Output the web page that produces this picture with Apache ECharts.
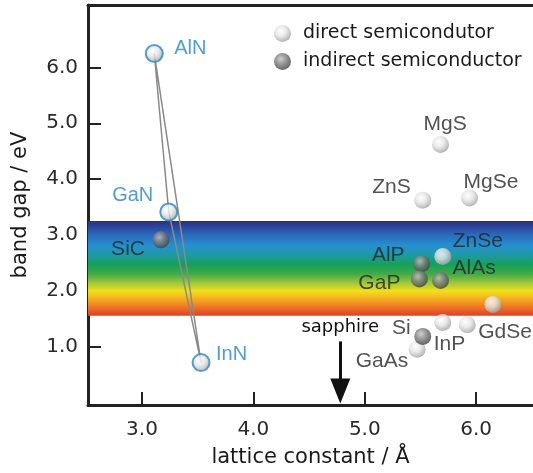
<!DOCTYPE html>
<html>
<head>
<meta charset="utf-8">
<script src="https://cdn.jsdelivr.net/npm/echarts@6/dist/echarts.min.js"></script>
<style>
html,body{margin:0;padding:0;background:#fff;}
#chart{width:533px;height:473px;}
</style>
</head>
<body>
<div id="chart"></div>
<script>
// ---- data ----
const names       = ['AlN','GaN','InN','SiC','MgS','ZnS','MgSe','ZnSe','AlP','GaP','AlAs','','InP','GdSe','Si','GaAs'];
const latticeConst= [3.11, 3.24, 3.53, 3.17, 5.68, 5.52, 5.94, 5.70, 5.51, 5.49, 5.68, 6.15, 5.70, 5.92, 5.52, 5.47];
const bandGap     = [6.25, 3.41, 0.71, 2.91, 4.62, 3.62, 3.66, 2.61, 2.48, 2.21, 2.18, 1.75, 1.43, 1.39, 1.18, 0.95];
const gapType     = ['nitride','nitride','nitride','indirect','direct','direct','direct','direct','indirect','indirect','indirect','direct','direct','direct','indirect','direct'];
const nitrideLoop = ['AlN','GaN','InN','AlN'];
const visibleBand = [1.55, 3.25];
const sapphireLattice = 4.78;
const sapphireArrowFrom = 1.09;
const sapphireArrowTo = 0.2;
const xTicks = [3, 4, 5, 6];
const yTicks = [1, 2, 3, 4, 5, 6];
const legendNames = ['direct semicondutor', 'indirect semiconductor'];

// ---- styles ----
const lightBall = {type:'radial', x:0.4, y:0.35, r:0.7, colorStops:[
  {offset:0, color:'#ffffff'},{offset:0.45, color:'#e4e4e4'},{offset:1, color:'#999999'}]};
const darkBall = {type:'radial', x:0.4, y:0.35, r:0.7, colorStops:[
  {offset:0, color:'#c4c4c4'},{offset:0.45, color:'#7e7e7e'},{offset:1, color:'#3a3a3a'}]};
const labelFont = 'DejaVu Sans';
const pointFont = 'Liberation Sans';
const place = {
  AlN:{p:'right',o:[10.5,-5]}, GaN:{p:'left',o:[-6,-16]}, InN:{p:'right',o:[5.5,-8]},
  SiC:{p:'left',o:[-7.5,9]}, MgS:{p:'right',o:[-25.5,-20.5]}, ZnS:{p:'left',o:[-3.5,-13]},
  MgSe:{p:'right',o:[-14.5,-16]}, ZnSe:{p:'right',o:[1.5,-15]}, AlP:{p:'left',o:[-8.5,-9]},
  GaP:{p:'left',o:[-10.5,4]}, AlAs:{p:'right',o:[3.5,-12]}, InP:{p:'right',o:[-17.5,22]},
  GdSe:{p:'right',o:[2.5,8]}, Si:{p:'left',o:[-3.5,-8]}, GaAs:{p:'left',o:[-0.5,12]}
};

function pointsOf(type){
  const out = [];
  names.forEach((n,i)=>{
    if (gapType[i] !== type) return;
    const pl = place[n];
    out.push({
      value:[latticeConst[i], bandGap[i]], name:n,
      label: pl ? {show:true, position:pl.p, distance:0, offset:pl.o, formatter:'{b}'} : {show:false}
    });
  });
  return out;
}
const idx = n => names.indexOf(n);
const loopData = nitrideLoop.map(n => [latticeConst[idx(n)], bandGap[idx(n)]]);

const chart = echarts.init(document.getElementById('chart'), null, {renderer:'canvas'});
const axisLineStyle = {color:'#222', width:3};
chart.setOption({
  animation:false,
  backgroundColor:'#fff',
  grid:{left:88, right:0, top:5, bottom:66, containLabel:false},
  legend:{
    data: legendNames, orient:'vertical', left:269, top:19,
    itemWidth:17, itemHeight:17, itemGap:9, icon:'circle',
    textStyle:{fontFamily:labelFont, fontSize:19, color:'#1a1a1a', padding:[0,0,0,7]}
  },
  xAxis:[{
    type:'value', min:2.515, max:6.51, position:'bottom',
    axisLine:{show:true, onZero:false, lineStyle:axisLineStyle},
    axisTick:{show:true, inside:true, length:13, lineStyle:{color:'#222', width:2}, customValues:xTicks},
    axisLabel:{customValues:xTicks, formatter:v=>v.toFixed(1), color:'#2a2a2a', fontSize:20, fontFamily:labelFont, margin:15},
    splitLine:{show:false},
    name:'lattice constant / Å', nameLocation:'middle', nameGap:42,
    nameTextStyle:{fontFamily:labelFont, fontSize:21, color:'#1a1a1a'}
  },{
    type:'value', min:2.515, max:6.51, position:'top',
    axisLine:{show:true, onZero:false, lineStyle:axisLineStyle},
    axisTick:{show:false}, axisLabel:{show:false}, splitLine:{show:false}
  }],
  yAxis:{
    type:'value', min:-0.05, max:7.12,
    axisLine:{show:true, onZero:false, lineStyle:axisLineStyle},
    axisTick:{show:true, inside:true, length:13, lineStyle:{color:'#222', width:2}, customValues:yTicks},
    axisLabel:{customValues:yTicks, formatter:v=>v.toFixed(1), color:'#2a2a2a', fontSize:20, fontFamily:labelFont, margin:10},
    splitLine:{show:false},
    name:'band gap / eV', nameLocation:'middle', nameGap:57,
    nameTextStyle:{fontFamily:labelFont, fontSize:21, color:'#1a1a1a'}
  },
  series:[
    {
      name:'band', type:'line', data:[], silent:true, z:1,
      markArea:{
        silent:true,
        itemStyle:{color:{type:'linear', x:0, y:0, x2:0, y2:1, colorStops:[
          {offset:0, color:'#2f2c7c'},
          {offset:0.06, color:'#2a469c'},
          {offset:0.15, color:'#2a6bbd'},
          {offset:0.26, color:'#2590cf'},
          {offset:0.36, color:'#1e9aa6'},
          {offset:0.46, color:'#179f5a'},
          {offset:0.56, color:'#42aa46'},
          {offset:0.66, color:'#a6c83a'},
          {offset:0.74, color:'#f2e01a'},
          {offset:0.82, color:'#f5ae22'},
          {offset:0.91, color:'#ee7624'},
          {offset:1, color:'#df3f2c'}]}},
        data:[[{yAxis:visibleBand[0]},{yAxis:visibleBand[1]}]]
      },
      markLine:{
        silent:true, symbol:['none','triangle'], symbolSize:[20,25],
        lineStyle:{color:'#111', width:3, type:'solid'},
        label:{show:true, position:'start', formatter:'sapphire', color:'#111', fontSize:18, fontFamily:labelFont, distance:5},
        data:[[{coord:[sapphireLattice, sapphireArrowFrom]},{coord:[sapphireLattice, sapphireArrowTo]}]]
      }
    },
    {
      name:'nitride alloys', type:'line', data:loopData, symbol:'none', z:2, silent:true,
      lineStyle:{color:'#8a8a8a', width:1.5}
    },
    {
      name:'nitrides', type:'scatter', data:pointsOf('nitride'), symbolSize:17, z:4,
      itemStyle:{color:lightBall, borderColor:'#2a88c2', borderWidth:2},
      label:{color:'#2586c0', fontSize:20, fontFamily:pointFont}
    },
    {
      name:legendNames[0], type:'scatter', data:pointsOf('direct'), symbolSize:17, z:4,
      itemStyle:{color:lightBall},
      label:{color:'#262626', fontSize:21, fontFamily:pointFont}
    },
    {
      name:legendNames[1], type:'scatter', data:pointsOf('indirect'), symbolSize:17, z:5,
      itemStyle:{color:darkBall},
      label:{color:'#262626', fontSize:21, fontFamily:pointFont}
    }
  ]
});
</script>
</body>
</html>
